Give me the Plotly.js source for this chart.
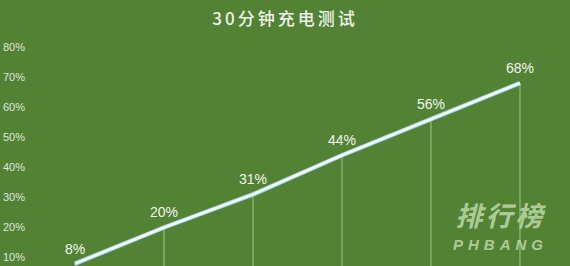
<!DOCTYPE html>
<html>
<head>
<meta charset="utf-8">
<script src="https://cdn.plot.ly/plotly-3.0.1.min.js"></script>
<style>
  html, body { margin: 0; padding: 0; background: #538235; }
  #chart { width: 570px; height: 266px; }
  .gtitle { letter-spacing: 3px; }
  .annotation text[data-unformatted*="PHBANG"] { letter-spacing: 5px; }
  .annotation text[data-unformatted*="排行榜"] { letter-spacing: 3px; }
</style>
</head>
<body>
<div id="chart"></div>
<script>
// 30-minute charging test: battery level at each 5-minute mark
const minutes = [5, 10, 15, 20, 25, 30];
const batteryPct = [8, 20, 31, 44, 56, 68];
const yTicks = [10, 20, 30, 40, 50, 60, 70, 80];
const yTickText = yTicks.map(v => v + '%');
const chartTitle = '30分钟充电测试';

const bg = '#538235';
const yRange = [7.2, 85.3];

// Thin drop lines from every point down to the bottom of the plot
const dropShapes = minutes.map((m, i) => ({
  type: 'line', xref: 'x', yref: 'y',
  x0: m, x1: m, y0: yRange[0], y1: batteryPct[i],
  line: { color: '#9cc983', width: 1 },
  layer: 'below'
}));

// Value labels above each point
const valueLabels = minutes.map((m, i) => ({
  x: m, y: batteryPct[i], xref: 'x', yref: 'y',
  text: batteryPct[i] + '%', showarrow: false, yshift: 15,
  xanchor: 'center', yanchor: 'middle',
  font: { family: 'Liberation Sans, Arial, sans-serif', size: 14, color: '#f1f5ee' }
}));

// Watermark in the lower right corner
const wmColor = 'rgba(196,224,178,0.8)';
const watermark = [
  { xref: 'paper', yref: 'paper', x: 0.875, y: 0.221, xanchor: 'center', yanchor: 'middle',
    text: '<b><i>排行榜</i></b>', showarrow: false,
    font: { family: 'Noto Sans CJK SC', size: 27, color: wmColor } },
  { xref: 'paper', yref: 'paper', x: 0.872, y: 0.092, xanchor: 'center', yanchor: 'middle',
    text: '<b><i>PHBANG</i></b>', showarrow: false,
    font: { family: 'Liberation Sans, Arial, sans-serif', size: 15, color: wmColor } }
];

const traces = [
  {
    x: minutes, y: batteryPct, type: 'scatter', mode: 'lines',
    line: { color: '#9fd2e4', width: 4.5 }, hoverinfo: 'skip'
  },
  {
    x: minutes, y: batteryPct, type: 'scatter', mode: 'lines',
    line: { color: '#f4fbfd', width: 2.5 }, hoverinfo: 'skip'
  }
];

const layout = {
  width: 570, height: 266,
  paper_bgcolor: bg, plot_bgcolor: bg,
  margin: { l: 26, r: 0, t: 31, b: 0, pad: 0 },
  showlegend: false,
  title: {
    text: chartTitle, x: 0.5, xanchor: 'center', y: 0.927, yanchor: 'middle',
    font: { family: 'Noto Sans CJK SC', size: 17, weight: 500, color: '#eef3ea' }
  },
  xaxis: {
    range: [2.247, 32.81], showgrid: false, zeroline: false,
    showline: false, showticklabels: false, ticks: ''
  },
  yaxis: {
    range: yRange, tickmode: 'array', tickvals: yTicks, ticktext: yTickText,
    showgrid: false, zeroline: false, showline: false, ticks: '',
    tickfont: { family: 'Liberation Sans, Arial, sans-serif', size: 11, color: '#dce7d4' }
  },
  shapes: dropShapes,
  annotations: valueLabels.concat(watermark)
};

Plotly.newPlot('chart', traces, layout, { displayModeBar: false, staticPlot: true });
</script>
</body>
</html>
